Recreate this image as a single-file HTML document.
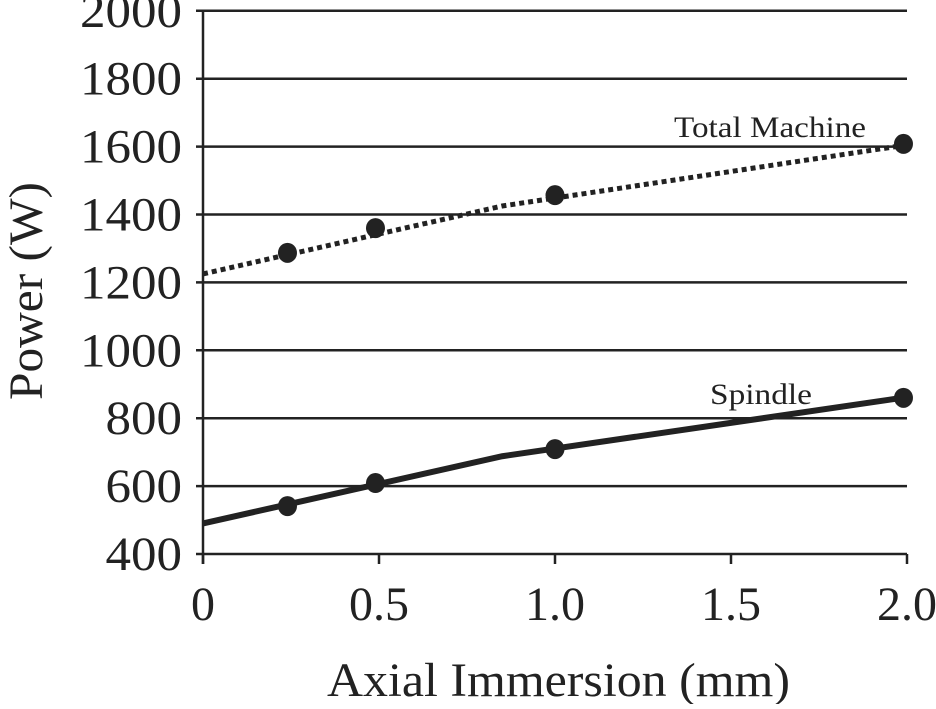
<!DOCTYPE html>
<html><head><meta charset="utf-8"><style>
body{margin:0;background:#fff;}
svg text{font-family:"Liberation Serif",serif;fill:#222;}
</style></head><body>
<svg width="936" height="704" id="c"></svg>
<script>
const yTicks=[400,600,800,1000,1200,1400,1600,1800,2000];
const xTicks=[0,0.5,1.0,1.5,2.0];
const xTickLabels=["0","0.5","1.0","1.5","2.0"];
const pointX=[0.24,0.49,1.0,1.99];
const totalPts=[1287,1360,1457,1608];
const spindlePts=[541,609,709,860];
const lineX=[0,0.85,2.0];
const totalLine=[1225,1425,1605];
const spindleLine=[490,688,862];
const NS="http://www.w3.org/2000/svg";
const svg=document.getElementById('c');
const X=v=>203+v*352;
const Y=v=>554-(v-400)*0.3395;
function mk(t,a){const e=document.createElementNS(NS,t);for(const k in a)e.setAttribute(k,a[k]);svg.appendChild(e);return e;}
yTicks.forEach(v=>{
 const l=mk('line',{x1:196,x2:907,y1:Y(v),y2:Y(v),stroke:'#222','stroke-width':2.5});
 
 
 const s=String(v);
 const t=mk('text',{x:182,y:Y(v)+16,'font-size':48,'text-anchor':'end',textLength:s.length*25.5,lengthAdjust:'spacingAndGlyphs'});t.textContent=s;
 
 
});
const ax=mk('line',{x1:203,x2:203,y1:Y(2000),y2:Y(400)+10,stroke:'#222','stroke-width':2.5});


xTicks.forEach((v,i)=>{
 const l=mk('line',{x1:X(v),x2:X(v),y1:Y(400),y2:Y(400)+10,stroke:'#222','stroke-width':2.5});
 
 
 const t=mk('text',{x:X(v),y:620,'font-size':48,'text-anchor':'middle'});t.textContent=xTickLabels[i];
 
 
});
function pts(ys){return lineX.map((x,i)=>X(x)+','+Y(ys[i])).join(' ');}
const tl=mk('polyline',{points:pts(totalLine),fill:'none',stroke:'#222','stroke-width':5,'stroke-dasharray':'5 4'});


const sl=mk('polyline',{points:pts(spindleLine),fill:'none',stroke:'#222','stroke-width':6});


pointX.forEach((x,i)=>{
 const a=mk('ellipse',{cx:X(x),cy:Y(totalPts[i]),rx:9.5,ry:10,fill:'#222'});
 
 
 const b=mk('ellipse',{cx:X(x),cy:Y(spindlePts[i]),rx:9.5,ry:10,fill:'#222'});
 
 
});
</script>
<div style="position:absolute;left:0;top:0;width:936px;height:704px;pointer-events:none">
<svg width="936" height="704">
<text x="674" y="137" font-size="30" textLength="192" lengthAdjust="spacingAndGlyphs">Total Machine</text>
<text x="710" y="404" font-size="30" textLength="102" lengthAdjust="spacingAndGlyphs">Spindle</text>
<text x="327" y="696" font-size="48" textLength="463" lengthAdjust="spacingAndGlyphs">Axial Immersion (mm)</text>
<text transform="translate(42,400) rotate(-90)" font-size="48" textLength="218" lengthAdjust="spacingAndGlyphs">Power (W)</text>
</svg></div>
</body></html>
